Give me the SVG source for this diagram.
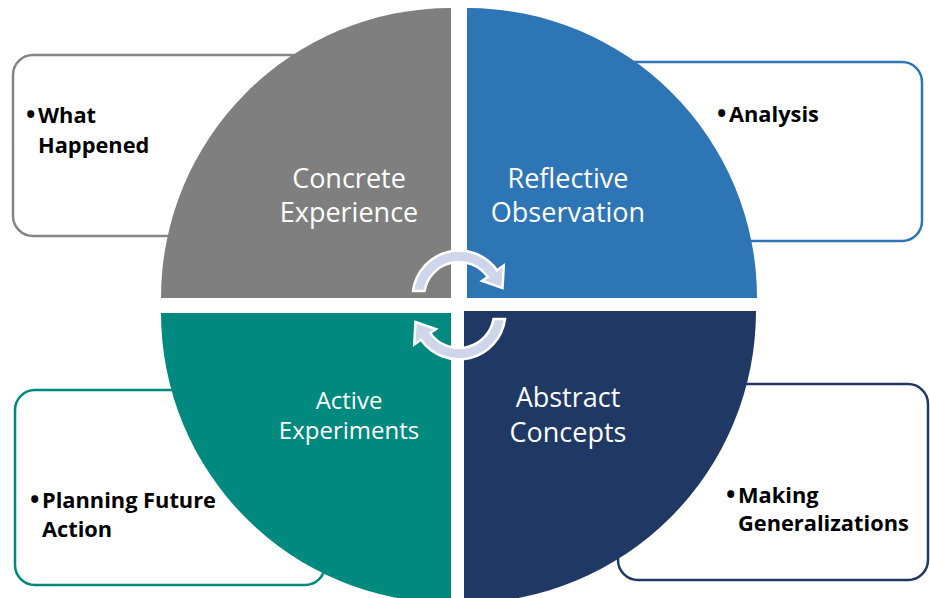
<svg xmlns="http://www.w3.org/2000/svg" width="930" height="598" viewBox="0 0 930 598">
<style>
.box{fill:#ffffff;stroke-width:2.5}
.lbl{font-family:"Open Sans","Noto Sans","Liberation Sans",sans-serif;fill:#ffffff;text-anchor:middle}
.bul{font-family:"Open Sans","Noto Sans","Liberation Sans",sans-serif;font-weight:bold;font-size:21.8px;fill:#000000}
.dot{font-size:25px}
.arr{fill:#cfd5ea;stroke:#ffffff;stroke-width:2.5;stroke-linejoin:miter}
</style>
<defs>
<path id="cyc" d="M-46,-6 A46.5,46.5 0 0 1 38,-26.8 L44.8,-31.5 L43.5,-9 L23,-16.1 L28.7,-20.1 A35,35 0 0 0 -34.5,-6 Z"/>
</defs>
<rect width="930" height="598" fill="#ffffff"/>
<g id="box-what-happened">
<rect class="box" x="13" y="55" width="300" height="181" rx="20" stroke="#858585"/>
<text class="bul" y="123"><tspan class="dot" x="26">•</tspan><tspan x="38">What</tspan><tspan x="38" y="153">Happened</tspan></text>
</g>
<g id="box-analysis">
<rect class="box" x="610" y="62" width="312" height="179" rx="20" stroke="#2e75b6"/>
<text class="bul" y="122"><tspan class="dot" x="717">•</tspan><tspan x="729">Analysis</tspan></text>
</g>
<g id="box-planning">
<rect class="box" x="15" y="390" width="310" height="195" rx="20" stroke="#00897e"/>
<text class="bul" y="508"><tspan class="dot" x="30">•</tspan><tspan x="42">Planning Future</tspan><tspan x="42" y="537">Action</tspan></text>
</g>
<g id="box-generalizations">
<rect class="box" x="618" y="384" width="310" height="196" rx="20" stroke="#203864"/>
<text class="bul" y="503"><tspan class="dot" x="726">•</tspan><tspan x="738">Making</tspan><tspan x="738" y="531">Generalizations</tspan></text>
</g>
<g id="node-concrete">
<path d="M451,298 L451,8 A290,290 0 0 0 161,298 Z" fill="#7f7f7f"/>
<text class="lbl" font-size="27" x="349" y="188">Concrete<tspan x="349" y="222">Experience</tspan></text>
</g>
<g id="node-reflective">
<path d="M467,298 L467,8 A290,290 0 0 1 757,298 Z" fill="#2e75b6"/>
<text class="lbl" font-size="27" x="568" y="188">Reflective<tspan x="568" y="222">Observation</tspan></text>
</g>
<g id="node-active">
<path d="M451,313 L161,313 A290,290 0 0 0 451,603 Z" fill="#00897e"/>
<text class="lbl" font-size="24" x="349" y="409">Active<tspan x="349" y="439">Experiments</tspan></text>
</g>
<g id="node-abstract">
<path d="M464,311 L756,311 A292,292 0 0 1 464,603 Z" fill="#203864"/>
<text class="lbl" font-size="27" x="568" y="407">Abstract<tspan x="568" y="442">Concepts</tspan></text>
</g>
<g id="connectors">
<use href="#cyc" class="arr" transform="translate(459,297)"/>
<use href="#cyc" class="arr" transform="translate(459,313) rotate(180)"/>
</g>
</svg>
